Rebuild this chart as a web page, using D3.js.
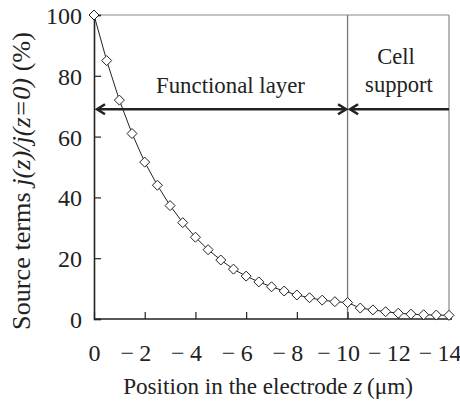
<!DOCTYPE html>
<html><head><meta charset="utf-8">
<script src="https://cdn.jsdelivr.net/npm/d3@7"></script>
<style>body{margin:0;background:#fff}svg{display:block}
svg text{font-family:'Liberation Serif','Times New Roman',Times,'DejaVu Serif',serif;fill:#222}</style>
</head><body><svg id="c" width="460" height="401"></svg>
<script>
const positions = [0,-0.5,-1,-1.5,-2,-2.5,-3,-3.5,-4,-4.5,-5,-5.5,-6,-6.5,-7,-7.5,-8,-8.5,-9,-9.5,-10,-10.5,-11,-11.5,-12,-12.5,-13,-13.5,-14];
const sourceTerms = [100,85,72,61,51.6,44,37.3,31.7,26.9,22.8,19.4,16.4,14.1,12.2,10.6,9.2,7.9,7.0,6.2,5.7,5.4,3.6,3.0,2.4,1.9,1.6,1.4,1.3,1.2];
const xTicks = [0,-2,-4,-6,-8,-10,-12,-14];
const xTickDigits = ["0","2","4","6","8","10","12","14"];
const yTicks = [0,20,40,60,80,100];
const yTickLabels = ["0","20","40","60","80","100"];
const boundary = -10;
const arrowLevel = 69;

const svg = d3.select("#c");
const L=94,R=449,T=15,B=319;
const x = d3.scaleLinear().domain([0,-14]).range([L,R]);
const y = d3.scaleLinear().domain([0,100]).range([B,T]);

function fit(sel, target, base){
  sel.style("font-size", base+"px");
  const w = sel.node().getBBox().width;
  const s = Math.max(16, Math.min(27, base*target/w));
  sel.style("font-size", s+"px");
  return s;
}

// tick font size from "100" width
const probe = svg.append("text").text("100");
const fs = fit(probe, 36, 21);
probe.remove();

svg.append("line").attr("x1",L).attr("x2",R).attr("y1",T).attr("y2",T).attr("stroke","#888").attr("stroke-width",1.2);
svg.append("line").attr("x1",R).attr("x2",R).attr("y1",T).attr("y2",B).attr("stroke","#888").attr("stroke-width",1.2);
svg.append("line").attr("x1",x(boundary)).attr("x2",x(boundary)).attr("y1",T).attr("y2",B).attr("stroke","#777").attr("stroke-width",1.3);

const yAxis = d3.axisLeft(y).tickValues(yTicks).tickSize(-7).tickPadding(12).tickFormat((d,i)=>yTickLabels[i]);
const gy = svg.append("g").attr("transform",`translate(${L},0)`).call(yAxis).attr("font-family",null).attr("font-size",null);
gy.select(".domain").attr("stroke","#222").attr("stroke-width",1.6);
gy.selectAll(".tick line").attr("stroke","#222").attr("stroke-width",1.2);
gy.selectAll(".tick text").style("font-size",fs+"px").attr("fill","#222").attr("dy","0.35em");

const xAxis = d3.axisBottom(x).tickValues(xTicks).tickSize(-7).tickFormat("");
const gx = svg.append("g").attr("transform",`translate(0,${B})`).call(xAxis).attr("font-family",null).attr("font-size",null);
gx.select(".domain").attr("stroke","#222").attr("stroke-width",1.6).attr("d",`M${L},0H${R+3}`);
gx.selectAll(".tick line").attr("stroke","#222").attr("stroke-width",1.2);
gx.selectAll(".tick text").each(function(d,i){
  const t = d3.select(this).text(null).style("font-size",fs+"px").attr("fill","#222").attr("y",41.5).attr("dy",0);
  if (d === 0) { t.attr("text-anchor","middle").attr("x",0).text(xTickDigits[i]); return; }
  t.attr("text-anchor","end");
  t.append("tspan").text("\u2212");
  const dg = t.append("tspan").attr("dx",fs*0.22).text(xTickDigits[i]);
  const w = dg.node().getComputedTextLength();
  t.attr("x", w/2);
});

const line = d3.line().x((d,i)=>x(positions[i])).y(d=>y(d));
svg.append("path").datum(sourceTerms).attr("d",line).attr("fill","none").attr("stroke","#222").attr("stroke-width",1);
svg.append("g").selectAll("path").data(sourceTerms).join("path")
  .attr("d","M0,-5L5,0L0,5L-5,0Z")
  .attr("transform",(d,i)=>`translate(${x(positions[i])},${y(d)})`)
  .attr("fill","#fff").attr("stroke","#222").attr("stroke-width",1);

function head(xt,yy,dir){
  svg.append("path").attr("d",`M${xt-dir*8},${yy-5}L${xt},${yy}L${xt-dir*8},${yy+5}`)
    .attr("fill","none").attr("stroke","#222").attr("stroke-width",2.6).attr("stroke-linejoin","miter");
}
const ay = y(arrowLevel);
svg.append("line").attr("x1",x(0)+4).attr("x2",x(boundary)-1.5).attr("y1",ay).attr("y2",ay).attr("stroke","#222").attr("stroke-width",2.6);
head(x(0)+3,ay,-1); head(x(boundary)-1.5,ay,1);
svg.append("line").attr("x1",x(boundary)+3).attr("x2",R).attr("y1",ay).attr("y2",ay).attr("stroke","#222").attr("stroke-width",2.6);
head(x(boundary)+2.5,ay,-1);

const fl = svg.append("text").attr("x",230.5).attr("y",93).attr("text-anchor","middle").text("Functional layer");
fit(fl, 149, 21);
const c1 = svg.append("text").attr("x",396).attr("y",64).attr("text-anchor","middle").text("Cell");
const c2 = svg.append("text").attr("x",399).attr("y",92).attr("text-anchor","middle").text("support");
const cs = fit(c2, 68, 21); c1.style("font-size",cs+"px");

const xt = svg.append("text").attr("x",268).attr("y",394).attr("text-anchor","middle");
xt.append("tspan").text("Position in the electrode ");
xt.append("tspan").style("font-style","italic").text("z");
xt.append("tspan").text("\u2009(\u03bcm)");
fit(xt, 290, 21);

const yt = svg.append("text").attr("transform","translate(30,181) rotate(-90)").attr("text-anchor","middle");
yt.append("tspan").text("Source terms ");
yt.append("tspan").style("font-style","italic").text("j(z)/j(z=0)");
yt.append("tspan").text(" (%)");
fit(yt, 298, 21);
</script></body></html>
